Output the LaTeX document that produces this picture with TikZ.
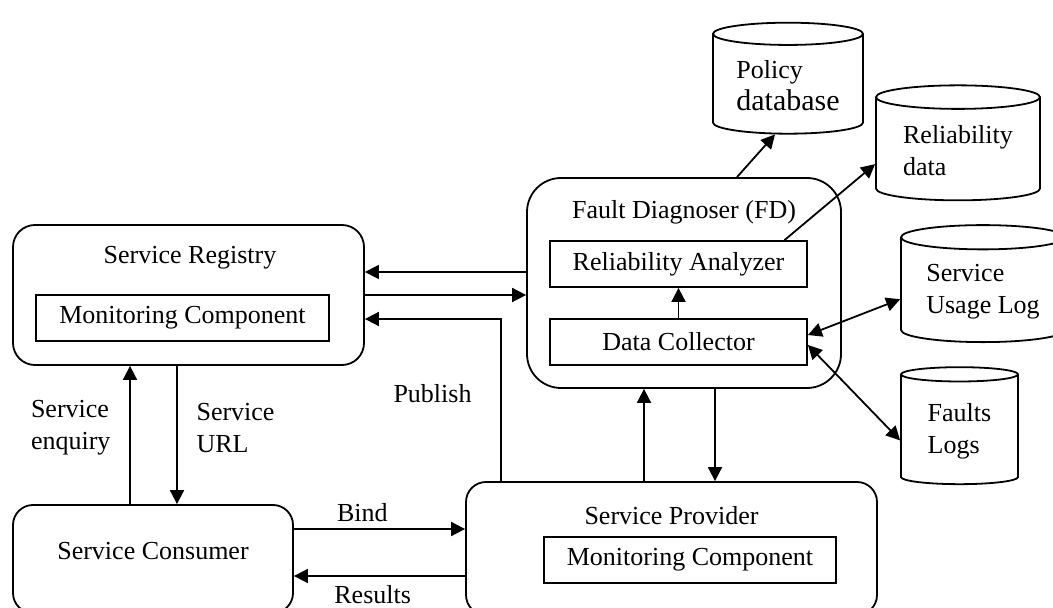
\documentclass[tikz,border=0pt]{standalone}
\usepackage{fontspec}
\setmainfont{Liberation Serif}
\usetikzlibrary{positioning,arrows.meta,shapes.geometric}

\begin{document}
\begin{tikzpicture}[
  x=0.5pt, y=-0.5pt,
  font=\fontsize{13}{16}\selectfont,
  box/.style={draw, line width=0.9pt, rounded corners=11pt, inner sep=0pt},
  comp/.style={draw, line width=0.9pt, inner sep=0pt},
  store/.style={cylinder, shape border rotate=90, shape aspect=0.2, draw, line width=0.9pt, align=left, inner sep=2pt},
  flow/.style={-{Triangle[length=7pt,width=7pt]}, line width=0.9pt},
  both/.style={{Triangle[length=7pt,width=7pt]}-{Triangle[length=7pt,width=7pt]}, line width=0.9pt},
]
\useasboundingbox (0,0) rectangle (1053,608);

% ---------- nodes ----------
\node[box, minimum width=175.5pt, minimum height=70pt] (reg) at (188.5,295) {};
\node (regT) at (190,258) {Service Registry};
\node[comp, minimum width=146.5pt, minimum height=23pt] (regmon) at (182.5,318) {Monitoring Component};

\node[box, rounded corners=17pt, minimum width=157pt, minimum height=105pt] (fd) at (684,283) {};
\node (fdT) at (684,212) {Fault Diagnoser (FD)};
\node[comp, minimum width=128.5pt, minimum height=23pt] (ra) at (678.5,264) {Reliability Analyzer};
\node[comp, minimum width=128.5pt, minimum height=23pt] (dc) at (678.5,342) {Data Collector};

\node[box, rounded corners=10pt, minimum width=140pt, minimum height=54pt] (con) at (153,559) {};
\node (conT) at (153,551) {Service Consumer};

\node[box, rounded corners=10pt, minimum width=205.5pt, minimum height=66.5pt] (prov) at (671.5,548.5) {};
\node (provT) at (671.5,516) {Service Provider};
\node[comp, minimum width=146pt, minimum height=23pt] (provmon) at (690,560) {Monitoring Component};

% data stores
\node[store, minimum width=75pt, minimum height=55.5pt] (pol) at (788,86) {Policy\\{\fontsize{15}{16}\selectfont database}};
\node[store, minimum width=82pt, minimum height=57.5pt] (rel) at (958,151) {Reliability\\data};
\node[store, minimum width=82pt, minimum height=58.5pt] (usage) at (983,292) {Service\\Usage Log};
\node[store, minimum width=58.5pt, minimum height=58.5pt] (faults) at (959.5,431) {Faults\\Logs};

% ---------- flows ----------
\coordinate (back) at ([yshift=11.5pt]reg.east);
\coordinate (pub) at ([yshift=-12pt]reg.east);
\coordinate (pubsrc) at ([xshift=18pt]prov.north west);
\draw[flow] (fd.west |- back) -- (back);
\draw[flow] (reg.east) -- (reg.east -| fd.west);
\draw[flow] (pubsrc) |- node[pos=0.27, left=11pt] {Publish} (pub);

\coordinate (enq) at ([xshift=-11.5pt]con.north);
\coordinate (url) at ([xshift=12pt]con.north);
\draw[flow] (enq) -- node[pos=0.55, left=6pt, align=left] {Service\\enquiry} (enq |- reg.south);
\draw[flow] (url |- reg.south) -- node[pos=0.45, right=6pt, align=left] {Service\\URL} (url);

\coordinate (bindc) at ([yshift=15pt]con.east);
\coordinate (resc) at ([yshift=-8.5pt]con.east);
\draw[flow] (bindc) -- node[above, pos=0.4] {Bind} (bindc -| prov.west);
\draw[flow] (resc -| prov.west) -- node[below, pos=0.54, yshift=-1pt] {Results} (resc);

\coordinate (upc) at ([xshift=-20pt]fd.south);
\coordinate (dnc) at ([xshift=15.5pt]fd.south);
\draw[flow] (upc |- prov.north) -- (upc);
\draw[flow] (dnc) -- (dnc |- prov.north);

\draw[flow] (dc) -- (ra);

% to the stores
\coordinate (polsrc) at ([xshift=26.5pt]fd.north);
\coordinate (relsrc) at ([xshift=53pt]ra.north);
\draw[flow] (polsrc) -- (pol.255);
\draw[flow] (relsrc) -- (rel.189);
\draw[both] ([yshift=3.5pt]dc.east) -- (usage.185);
\draw[both] ([yshift=-1.5pt]dc.east) -- (faults.189);

\end{tikzpicture}
\end{document}
